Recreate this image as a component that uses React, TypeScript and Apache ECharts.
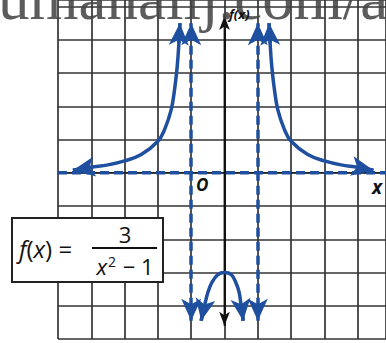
import React, { useEffect, useRef } from "react";
import * as echarts from "echarts";

// Left branch (x, f(x)); first point = left arrow, last = top arrow
const leftX = [-4.55, -4, -3.5, -3, -2.5, -2, -1.8, -1.6, -1.5, -1.42, -1.37, -1.34];
const leftY = [0.08, 0.17, 0.24, 0.36, 0.55, 0.95, 1.3, 1.9, 2.5, 3.2, 3.9, 4.5];
// Right branch
const rightX = [1.34, 1.37, 1.42, 1.5, 1.6, 1.8, 2, 2.5, 3, 3.5, 4, 4.47];
const rightY = [4.5, 3.9, 3.2, 2.5, 1.9, 1.3, 0.95, 0.55, 0.36, 0.24, 0.17, 0.08];
// Middle branch
const midX = [-0.7, -0.65, -0.6, -0.5, -0.38, -0.2, 0, 0.2, 0.34, 0.44, 0.5, 0.53, 0.56];
const midY = [-4.45, -4.2, -4.0, -3.6, -3.3, -3.06, -3.0, -3.06, -3.3, -3.6, -4.0, -4.2, -4.45];
// Asymptotes
const vAsymptotes = [-1, 1];
const hAsymptote = 0;
const asymptoteEnds = [-4.45, 4.5];
// Axes extents
const xRange = [-5, 4.85];
const yRange = [-5, 5.2];
const yAxisEnds = [-4.6, 4.72];

const BLUE = "#1f4f9f";

function pts(xs: number[], ys: number[]) {
  return xs.map((x, i) => [x, ys[i]]);
}

export default function App() {
  const ref = useRef<HTMLDivElement>(null);
  useEffect(() => {
    if (!ref.current) return;
    const chart = echarts.init(ref.current, null, { renderer: "svg" });

    const arrowML = (segs: number[][][], symbol: string[], size: number[], lineStyle: any) => ({
      silent: true,
      symbol,
      symbolSize: size,
      label: { show: false },
      lineStyle,
      emphasis: { disabled: true },
      data: segs.map((s) => [{ coord: s[0] }, { coord: s[1] }]),
    });

    const curveStyle = { color: BLUE, width: 3.5, type: "solid" };
    const curveSeries = (xs: number[], ys: number[]) => {
      const d = pts(xs, ys);
      const n = d.length;
      return {
        type: "line",
        data: d,
        smooth: 0.4,
        showSymbol: false,
        silent: true,
        lineStyle: curveStyle,
        z: 5,
        markLine: arrowML(
          [
            [d[1], d[0]],
            [d[n - 2], d[n - 1]],
          ],
          ["none", "arrow"],
          [15, 22],
          curveStyle
        ),
      };
    };

    const dashStyle = { color: BLUE, width: 3.5, type: [9, 5] };

    chart.setOption({
      animation: false,
      grid: { left: 58, right: 0, top: 0, bottom: 4 },
      xAxis: {
        type: "value",
        min: xRange[0],
        max: xRange[1],
        interval: 1,
        axisLine: { show: false },
        axisTick: { show: false },
        axisLabel: { show: false },
        splitLine: { show: true, lineStyle: { color: "#333", width: 1.7 } },
      },
      yAxis: {
        type: "value",
        min: yRange[0],
        max: yRange[1],
        interval: 1,
        axisLine: { show: false },
        axisTick: { show: false },
        axisLabel: { show: false },
        splitLine: { show: true, lineStyle: { color: "#333", width: 1.7 } },
      },
      series: [
        {
          type: "line",
          data: [
            [xRange[0], hAsymptote],
            [xRange[1], hAsymptote],
          ],
          showSymbol: false,
          silent: true,
          lineStyle: { color: "#222", width: 1.6 },
          z: 2,
        },
        {
          type: "line",
          data: [
            [0, yAxisEnds[0]],
            [0, yAxisEnds[1]],
          ],
          showSymbol: false,
          silent: true,
          lineStyle: { color: "#111", width: 1.8 },
          z: 3,
          markLine: arrowML(
            [
              [
                [0, yAxisEnds[0]],
                [0, yAxisEnds[1]],
              ],
            ],
            ["arrow", "arrow"],
            [8, 14],
            { color: "#111", width: 1.8, type: "solid" }
          ),
        },
        {
          type: "line",
          data: [
            [xRange[0], hAsymptote],
            [xRange[1], hAsymptote],
          ],
          showSymbol: false,
          silent: true,
          lineStyle: dashStyle,
          z: 4,
        },
        {
          type: "line",
          data: [],
          silent: true,
          z: 4,
          markLine: arrowML(
            vAsymptotes.map((v) => [
              [v, asymptoteEnds[0]],
              [v, asymptoteEnds[1]],
            ]),
            ["arrow", "arrow"],
            [15, 22],
            dashStyle
          ),
        },
        curveSeries(leftX, leftY),
        curveSeries(rightX, rightY),
        curveSeries(midX, midY),
      ],
      graphic: [
        {
          type: "rect",
          z: 100,
          shape: { x: 12, y: 218, width: 151, height: 64 },
          style: { fill: "#fff", stroke: "#222", lineWidth: 2 },
        },
        {
          type: "text",
          z: 101,
          x: 19,
          y: 248,
          style: {
            text: "{i|f}({i|x}) =",
            rich: { i: { fontStyle: "italic", fontFamily: "Open Sans", fontSize: 24, fill: "#111" } },
            fontFamily: "Open Sans",
            fontSize: 24,
            fill: "#111",
            verticalAlign: "middle",
          },
        },
        {
          type: "text",
          z: 101,
          x: 125,
          y: 234,
          style: {
            text: "3",
            fontFamily: "Open Sans",
            fontSize: 22,
            fill: "#111",
            align: "center",
            verticalAlign: "middle",
          },
        },
        {
          type: "line",
          z: 101,
          shape: { x1: 92, y1: 248, x2: 157, y2: 248 },
          style: { stroke: "#111", lineWidth: 2 },
        },
        {
          type: "text",
          z: 101,
          x: 125,
          y: 266,
          style: {
            text: "{i|x}{s|2} − 1",
            rich: {
              i: { fontStyle: "italic", fontFamily: "Open Sans", fontSize: 22, fill: "#111" },
              s: { fontFamily: "Open Sans", fontSize: 14, fill: "#111", verticalAlign: "top", padding: [0, 1, 10, 1] },
            },
            fontFamily: "Open Sans",
            fontSize: 22,
            fill: "#111",
            align: "center",
            verticalAlign: "middle",
          },
        },
        {
          type: "text",
          z: 101,
          x: 196,
          y: 184,
          style: {
            text: "O",
            fontFamily: "Open Sans",
            fontStyle: "italic",
            fontWeight: "bold",
            fontSize: 17,
            fill: "#111",
            verticalAlign: "middle",
          },
        },
        {
          type: "text",
          z: 101,
          x: 372,
          y: 187,
          style: {
            text: "x",
            fontFamily: "Open Sans",
            fontStyle: "italic",
            fontWeight: "bold",
            fontSize: 19,
            fill: "#111",
            verticalAlign: "middle",
          },
        },
        {
          type: "text",
          z: 121,
          x: 229,
          y: 14,
          style: {
            text: "f(x)",
            fontFamily: "Open Sans",
            fontStyle: "italic",
            fontWeight: "bold",
            fontSize: 13,
            fill: "#111",
            verticalAlign: "middle",
          },
        },
        {
          type: "text",
          z: 120,
          x: -2,
          y: -2,
          style: {
            text: "umanalij.com/a",
            fontFamily: "Liberation Serif",
            fontSize: 63,
            fill: "rgba(70,70,70,0.88)",
            verticalAlign: "middle",
          },
        },
      ],
    });
    return () => chart.dispose();
  }, []);
  return (
    <div
      ref={ref}
      style={{ position: "fixed", left: 0, top: 0, width: 386, height: 343, background: "#fff" }}
    />
  );
}
